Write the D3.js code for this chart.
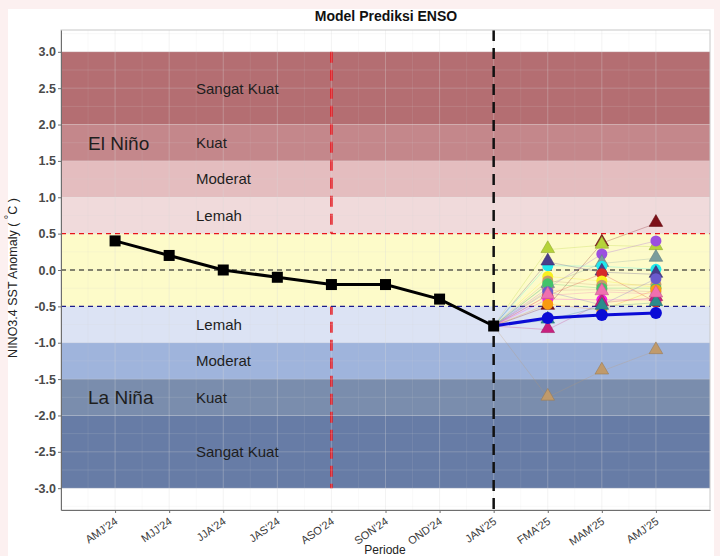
<!DOCTYPE html>
<html>
<head>
<meta charset="utf-8">
<script src="https://cdn.jsdelivr.net/npm/d3@7"></script>
<style>
  body { margin: 0; background: #fcf0f0; }
  svg { display: block; font-family: "Liberation Sans", Arial, sans-serif; }
</style>
</head>
<body>
<svg id="chart" width="720" height="556"></svg>
<script>
/* periods on the x axis */
var PERIODS = ["AMJ'24", "MJJ'24", "JJA'24", "JAS'24", "ASO'24", "SON'24", "OND'24", "JAN'25", "FMA'25", "MAM'25", "AMJ'25"];
var Y_TICKS = [3.0, 2.5, 2.0, 1.5, 1.0, 0.5, 0.0, -0.5, -1.0, -1.5, -2.0, -2.5, -3.0];

/* observed anomaly, AMJ'24 .. JAN'25 */
var OBS_PERIODS = ["AMJ'24", "MJJ'24", "JJA'24", "JAS'24", "ASO'24", "SON'24", "OND'24", "JAN'25"];
var OBS_VALUES = [0.4, 0.2, 0.0, -0.1, -0.2, -0.2, -0.4, -0.77];

/* forecast periods (start at last observation) */
var FC_PERIODS = ["JAN'25", "FMA'25", "MAM'25", "AMJ'25"];
var ENSEMBLE_MEAN = [-0.77, -0.66, -0.62, -0.59];

/* individual models */
var MODEL_COLORS = ["#7d1018", "#b5d33a", "#9b4fe0", "#7a9c9c", "#1fe8ec", "#483d8b", "#d62a2a", "#f8f020",
                    "#c69a6c", "#c98a8e", "#43c36a", "#f01ce6", "#f99a10", "#6a5acd", "#c8207e", "#2a8c8c",
                    "#c09a6b", "#f06fb0"];
var MODEL_SHAPES = ["tri", "tri", "circle", "tri", "circle", "tri", "circle", "circle",
                    "circle", "circle", "circle", "circle", "circle", "circle", "tri", "tri",
                    "tri", "tri"];
var FMA_VALUES = [-0.50, 0.28, -0.25, -0.20, 0.06, 0.11, -0.35, -0.09, -0.15, -0.28, -0.19, -0.40, -0.47, -0.30, -0.82, -0.69, -1.75, -0.35];
var MAM_VALUES = [0.37, 0.34, 0.22, 0.09, 0.05, -0.03, -0.05, -0.15, -0.21, -0.27, -0.25, -0.41, -0.55, -0.48, -0.45, -0.50, -1.39, -0.30];
var AMJ_VALUES = [0.64, 0.32, 0.40, 0.16, 0.01, -0.06, -0.44, -0.24, -0.20, -0.30, -0.25, -0.41, -0.27, -0.12, -0.38, -0.45, -1.11, -0.33];

/* strength bands */
var BAND_LOW = [2.0, 1.5, 1.0, 0.5, -0.5, -1.0, -1.5, -2.0, -3.0];
var BAND_HIGH = [3.0, 2.0, 1.5, 1.0, 0.5, -0.5, -1.0, -1.5, -2.0];
var BAND_COLORS = ["#b46e72", "#c4878b", "#e4bdbf", "#f0dadb", "#fdfbc9", "#dce3f4", "#9fb4dc", "#7a8dad", "#677ca6"];
var BAND_LABELS = ["Sangat Kuat", "Kuat", "Moderat", "Lemah", "", "Lemah", "Moderat", "Kuat", "Sangat Kuat"];

var svg = d3.select("#chart");

/* white card behind the plot */
svg.append("rect").attr("x", 8).attr("y", 9).attr("width", 706).attr("height", 547).attr("fill", "#fff");

var x = d3.scaleLinear().domain([0, PERIODS.length + 1]).range([61, 710]);
var xp = function(p){ return x(PERIODS.indexOf(p) + 1); };
var y = d3.scaleLinear().domain([-3.3, 3.3]).range([510, 30]);

var g = svg.append("g");

/* bands (neutral drawn later, over the red line) */
function drawBand(i){
    g.append("rect")
        .attr("x", x(0)).attr("width", x(12) - x(0))
        .attr("y", y(BAND_HIGH[i])).attr("height", y(BAND_LOW[i]) - y(BAND_HIGH[i]))
        .attr("fill", BAND_COLORS[i]);
}
BAND_COLORS.forEach(function(c, i){ if (i !== 4) drawBand(i); });

/* red dashed vertical at ASO'24 */
g.append("line").attr("x1", xp("ASO'24")).attr("x2", xp("ASO'24")).attr("y1", y(3)).attr("y2", y(-3))
    .attr("stroke", "#e8141c").attr("stroke-width", 2.5).attr("stroke-dasharray", "11,7");

drawBand(4);

/* grid, faint over the bands */
d3.range(-3.25, 3.26, 0.25).forEach(function(v){
    var major = Math.abs(v*2 - Math.round(v*2)) < 0.01;
    g.append("line").attr("x1", x(0)).attr("x2", x(12)).attr("y1", y(v)).attr("y2", y(v))
        .attr("stroke", "#d8d8d8").attr("stroke-opacity", major ? 0.35 : 0.2).attr("stroke-width", 0.8);
});
PERIODS.forEach(function(p, i){
    g.append("line").attr("x1", x(i + 1)).attr("x2", x(i + 1)).attr("y1", y(3.3)).attr("y2", y(-3.3))
        .attr("stroke", "#d8d8d8").attr("stroke-opacity", 0.4).attr("stroke-width", 0.8);
    g.append("line").attr("x1", x(i + 0.5)).attr("x2", x(i + 0.5)).attr("y1", y(3.3)).attr("y2", y(-3.3))
        .attr("stroke", "#d8d8d8").attr("stroke-opacity", 0.2).attr("stroke-width", 0.6);
});

/* band labels */
BAND_LABELS.forEach(function(lbl, i){
    if (!lbl) return;
    var v = (BAND_LOW[i] + BAND_HIGH[i]) / 2;
    g.append("text").attr("x", 196).attr("y", y(v)).attr("dy", "0.36em")
        .attr("font-size", 15).attr("fill", "#1e1e1e").text(lbl);
});
g.append("text").attr("x", 88).attr("y", y(1.75)).attr("dy", "0.36em").attr("font-size", 19).attr("fill", "#1e1e1e").text("El Niño");
g.append("text").attr("x", 88).attr("y", y(-1.75)).attr("dy", "0.36em").attr("font-size", 19).attr("fill", "#1e1e1e").text("La Niña");

/* horizontal thresholds */
[[0.5, "#e8141c"], [0, "#111"], [-0.5, "#1a1a8c"]].forEach(function(d){
    g.append("line").attr("x1", x(0)).attr("x2", x(12)).attr("y1", y(d[0])).attr("y2", y(d[0]))
        .attr("stroke", d[1]).attr("stroke-width", 1.2).attr("stroke-dasharray", "5,4");
});

/* black dashed vertical at JAN'25 */
g.append("line").attr("x1", xp("JAN'25")).attr("x2", xp("JAN'25")).attr("y1", y(3.3)).attr("y2", y(-3.3))
    .attr("stroke", "#111").attr("stroke-width", 2.5).attr("stroke-dasharray", "11,7");

/* model lines */
var line = d3.line().x(function(d){ return xp(d.p); }).y(function(d){ return y(d.v); });
var models = MODEL_COLORS.map(function(c, i){
    return {
        color: c, shape: MODEL_SHAPES[i],
        pts: [{p: FC_PERIODS[0], v: ENSEMBLE_MEAN[0]}, {p: FC_PERIODS[1], v: FMA_VALUES[i]},
              {p: FC_PERIODS[2], v: MAM_VALUES[i]}, {p: FC_PERIODS[3], v: AMJ_VALUES[i]}]
    };
});
models.forEach(function(m){
    g.append("path").attr("d", line(m.pts)).attr("fill", "none")
        .attr("stroke", m.color).attr("stroke-opacity", 0.45).attr("stroke-width", 0.6);
});

/* observed */
var obs = OBS_PERIODS.map(function(p, i){ return {p: p, v: OBS_VALUES[i]}; });
g.append("path").attr("d", line(obs)).attr("fill", "none").attr("stroke", "#000").attr("stroke-width", 3);

/* ensemble mean line */
var ens = FC_PERIODS.map(function(p, i){ return {p: p, v: ENSEMBLE_MEAN[i]}; });
g.append("path").attr("d", line(ens)).attr("fill", "none").attr("stroke", "#0b0bd6").attr("stroke-width", 3);

/* model points */
var triangle = d3.symbol().type(d3.symbolTriangle).size(80);
models.forEach(function(m){
    m.pts.slice(1).forEach(function(d){
        if (m.shape === "tri") {
            g.append("path").attr("d", triangle())
                .attr("transform", "translate(" + xp(d.p) + "," + (y(d.v) - 1) + ")")
                .attr("fill", m.color).attr("stroke", d3.color(m.color).darker(0.6)).attr("stroke-width", 0.6);
        } else {
            g.append("circle").attr("cx", xp(d.p)).attr("cy", y(d.v)).attr("r", 5.5)
                .attr("fill", m.color);
        }
    });
});

/* ensemble points */
ens.slice(1).forEach(function(d){
    g.append("circle").attr("cx", xp(d.p)).attr("cy", y(d.v)).attr("r", 6).attr("fill", "#0b0bd6");
});

/* observed squares */
obs.forEach(function(d){
    g.append("rect").attr("x", xp(d.p) - 5.5).attr("y", y(d.v) - 5.5).attr("width", 11).attr("height", 11).attr("fill", "#000");
});

/* panel border + axes */
g.append("rect").attr("x", x(0)).attr("y", y(3.3)).attr("width", x(12) - x(0)).attr("height", y(-3.3) - y(3.3))
    .attr("fill", "none").attr("stroke", "#c8c8c8").attr("stroke-width", 1);

var yAxis = svg.append("g").attr("transform", "translate(" + x(0) + ",0)")
    .call(d3.axisLeft(y).tickValues(Y_TICKS).tickFormat(d3.format(".1f")).tickSize(3).tickSizeOuter(0));
yAxis.select(".domain").attr("stroke", "#6e6e6e");
yAxis.selectAll(".tick line").attr("stroke", "#6e6e6e");
yAxis.selectAll(".tick text").attr("font-size", 12.5).attr("font-weight", "bold").attr("fill", "#4a4a4a")
    .attr("font-family", "'Liberation Sans', Arial, sans-serif").attr("x", -5)
    .text(function(d){ return d3.format(".1f")(d).replace("−", "-"); });

var xAxis = svg.append("g").attr("transform", "translate(0," + y(-3.3) + ")")
    .call(d3.axisBottom(x).tickValues(d3.range(1, PERIODS.length + 1))
        .tickFormat(function(d){ return PERIODS[d - 1]; }).tickSize(3).tickSizeOuter(0));
xAxis.select(".domain").attr("stroke", "#6e6e6e");
xAxis.selectAll(".tick line").attr("stroke", "#6e6e6e");
xAxis.selectAll(".tick text").attr("font-size", 11).attr("fill", "#3a3a3a")
    .attr("font-family", "'Liberation Sans', Arial, sans-serif")
    .attr("text-anchor", "end").attr("dy", 0).attr("y", 0)
    .attr("transform", "translate(3,13) rotate(-35)");

/* titles */
svg.append("text").attr("x", 386).attr("y", 21).attr("text-anchor", "middle")
    .attr("font-size", 14).attr("font-weight", "bold").attr("fill", "#111").text("Model Prediksi ENSO");
svg.append("text").attr("x", 385).attr("y", 554).attr("text-anchor", "middle")
    .attr("font-size", 12).attr("fill", "#222").text("Periode");

var yt = svg.append("text").attr("transform", "translate(17,278) rotate(-90)").attr("text-anchor", "middle")
    .attr("font-size", 12.5).attr("fill", "#222");
yt.append("tspan").text("NINO3.4 SST Anomaly (  ");
yt.append("tspan").attr("font-size", 11).attr("dy", -5).text("°");
yt.append("tspan").attr("dy", 5).text("C )");
</script>
</body>
</html>
